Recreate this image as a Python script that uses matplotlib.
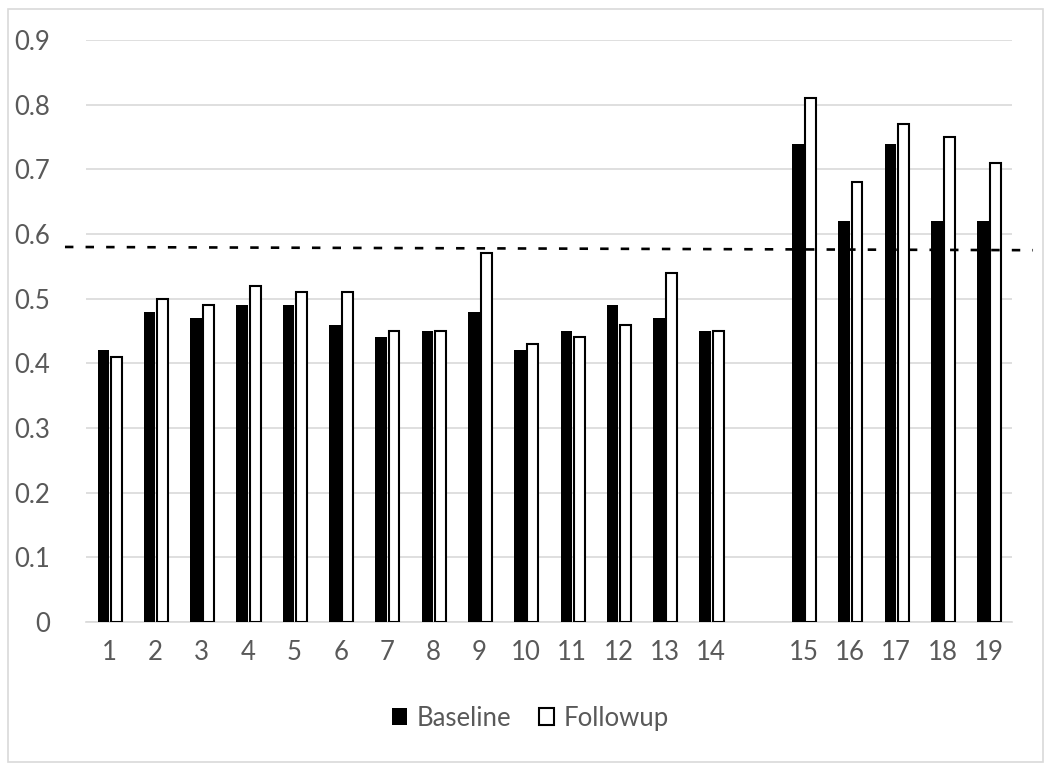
import numpy as np
import matplotlib
matplotlib.use("Agg")
import matplotlib.pyplot as plt
from matplotlib.patches import Patch, Rectangle

# data
categories = ["1", "2", "3", "4", "5", "6", "7", "8", "9", "10", "11", "12", "13", "14",
              "", "15", "16", "17", "18", "19"]
baseline = [0.42, 0.48, 0.47, 0.49, 0.49, 0.46, 0.44, 0.45, 0.48, 0.42, 0.45, 0.49, 0.47, 0.45,
            np.nan, 0.74, 0.62, 0.74, 0.62, 0.62]
followup = [0.41, 0.50, 0.49, 0.52, 0.51, 0.51, 0.45, 0.45, 0.57, 0.43, 0.44, 0.46, 0.54, 0.45,
            np.nan, 0.81, 0.68, 0.77, 0.75, 0.71]
threshold = [0.580, 0.575]   # dashed line, slightly tilted (left end, right end)
yticks = [0, 0.1, 0.2, 0.3, 0.4, 0.5, 0.6, 0.7, 0.8, 0.9]
ytick_labels = ["0", "0.1", "0.2", "0.3", "0.4", "0.5", "0.6", "0.7", "0.8", "0.9"]

plt.rcParams['font.family'] = ['Lato', 'DejaVu Sans']
text_color = '#595959'
grid_color = '#d9d9d9'

fig = plt.figure(figsize=(10.5, 7.7), dpi=100)
ax = fig.add_axes([0.0819, 0.1922, 0.8819, 0.7558])

x = np.arange(len(categories))
bw = 0.25
ax.bar(x, baseline, width=-bw, align='edge', color='black', edgecolor='black', linewidth=0, zorder=3)
ax.bar(x + 0.035, followup, width=0.235, align='edge', color='white', edgecolor='black',
       linewidth=1.5, zorder=3)

# dashed reference line, runs past the plot area on both sides
ax.plot([-0.0227, 1.0227], threshold, transform=ax.get_yaxis_transform(), color='black',
        linestyle=(0, (3.2, 4.6)), linewidth=1.9, clip_on=False, zorder=4)

ax.set_xlim(-0.5, len(categories) - 0.5)
ax.set_ylim(0, 0.9)
ax.set_yticks(yticks)
ax.set_yticklabels(ytick_labels)
ax.set_xticks(x)
ax.set_xticklabels(categories)

ax.yaxis.grid(True, color=grid_color, linewidth=1.2, zorder=0)
ax.set_axisbelow(True)
for side in ['top', 'right', 'left']:
    ax.spines[side].set_visible(False)
ax.spines['bottom'].set_color(grid_color)
ax.spines['bottom'].set_linewidth(1.2)
ax.tick_params(axis='both', length=0, labelsize=18.5, labelcolor=text_color)
ax.tick_params(axis='y', pad=26)
ax.tick_params(axis='x', pad=13)

handles = [Patch(facecolor='black', edgecolor='black', linewidth=0, label='Baseline'),
           Patch(facecolor='white', edgecolor='black', linewidth=1.5, label='Followup')]
leg = fig.legend(handles=handles, loc='center', bbox_to_anchor=(0.505, 0.0675), ncol=2,
                 frameon=False, fontsize=18.5, handlelength=0.6, handleheight=0.6,
                 handletextpad=0.35, columnspacing=1.1)
for t in leg.get_texts():
    t.set_color(text_color)

# chart area border
fig.patches.append(Rectangle((8 / 1050, 1 - 762 / 770), 1035 / 1050, 753 / 770,
                             transform=fig.transFigure, fill=False, edgecolor=grid_color,
                             linewidth=1.2))

fig.savefig('out.png', dpi=100)
